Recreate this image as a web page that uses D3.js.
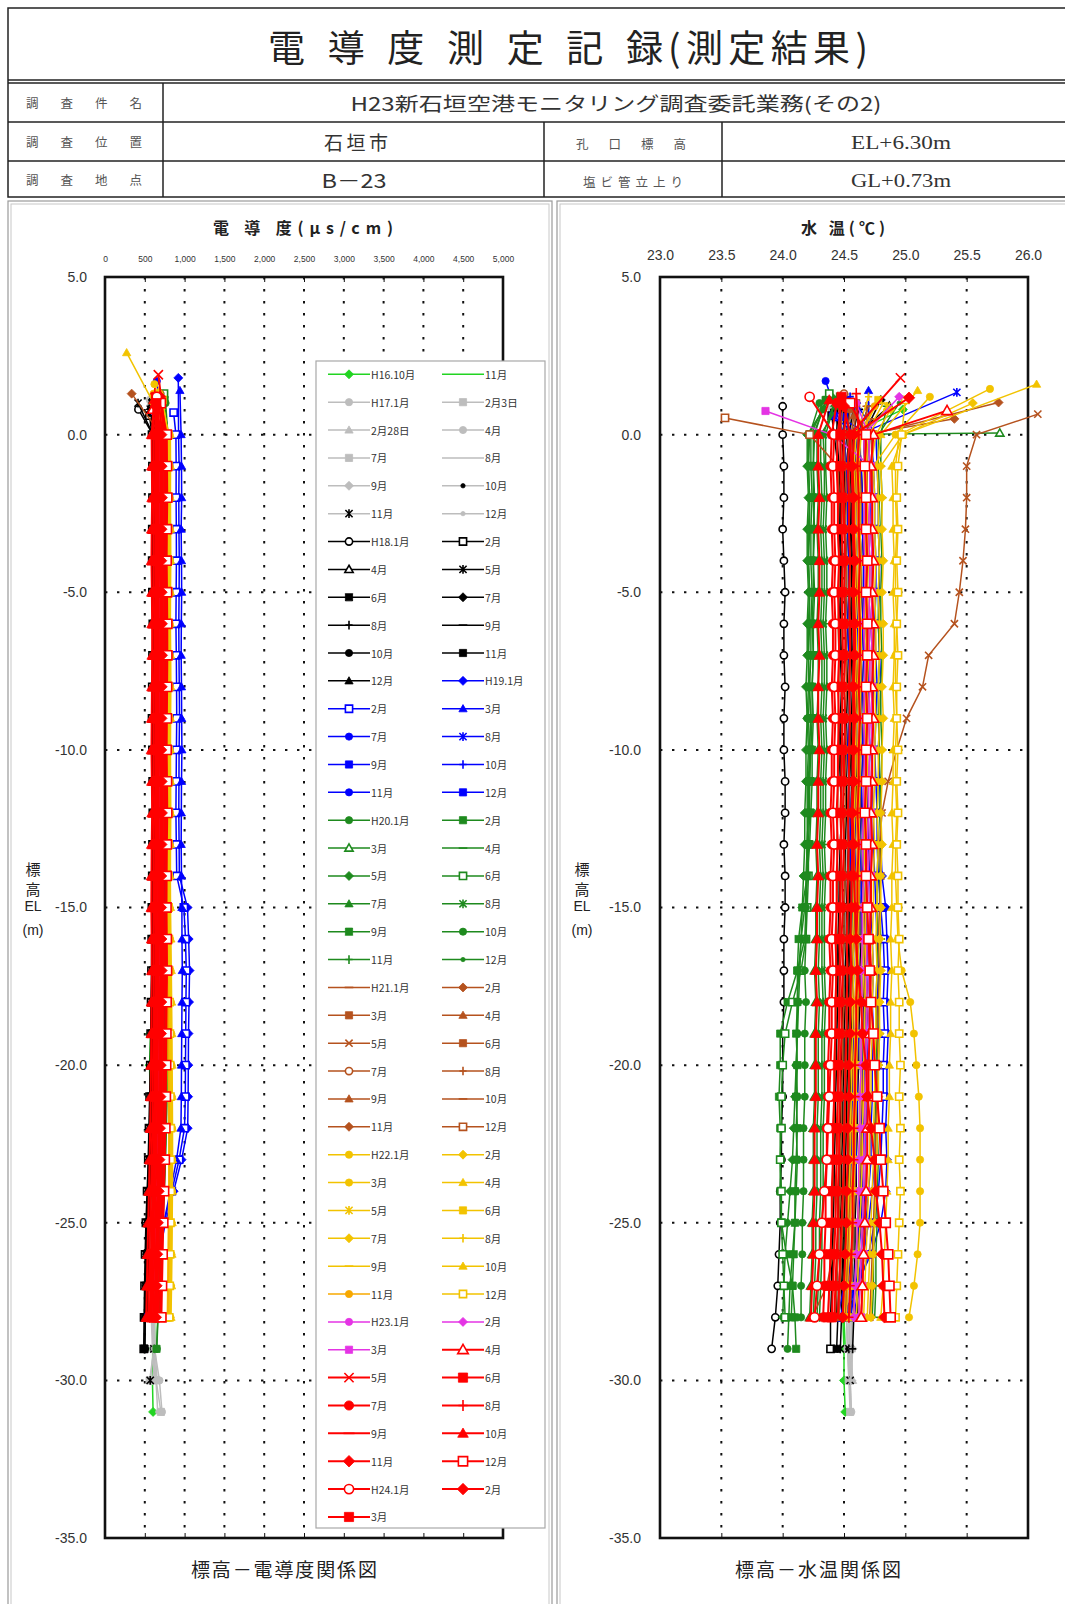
<!DOCTYPE html>
<html>
<head>
<meta charset="utf-8">
<script src="https://cdn.jsdelivr.net/npm/d3@7"></script>
<style>
  body { margin: 0; background: #fff; }
  svg { display: block; }
</style>
</head>
<body>
<svg id="chart" width="1065" height="1604"></svg>
<script>
// ---- data ----
const seriesNames = ["H16.10月","11月","H17.1月","2月3日","2月28日","4月","7月","8月","9月","10月","11月","12月",
  "H18.1月","2月","4月","5月","6月","7月","8月","9月","10月","11月","12月",
  "H19.1月","2月","3月","7月","8月","9月","10月","11月","12月",
  "H20.1月","2月","3月","4月","5月","6月","7月","8月","9月","10月","11月","12月",
  "H21.1月","2月","3月","4月","5月","6月","7月","8月","9月","10月","11月","12月",
  "H22.1月","2月","3月","4月","5月","6月","7月","8月","9月","10月","11月","12月",
  "H23.1月","2月","3月","4月","5月","6月","7月","8月","9月","10月","11月","12月",
  "H24.1月","2月","3月"];

const condTicks = [0,500,1000,1500,2000,2500,3000,3500,4000,4500,5000];
const tempTicks = [23.0,23.5,24.0,24.5,25.0,25.5,26.0];
const depthTicks = [5,0,-5,-10,-15,-20,-25,-30,-35];

// depth (EL m) of the first reading of each series; following readings are at 0, -1, -2 ... m
const condTop = [1.0,0.9,1.1,0.8,1.0,1.2,0.9,1.0,0.8,1.1,1.0,0.9,
  0.8,0.6,0.9,1.0,0.7,1.1,0.9,0.8,1.0,0.7,0.9,
  1.8,0.7,1.4,1.7,1.3,0.6,1.2,1.1,0.8,
  1.0,1.1,0.1,0.9,1.2,1.3,0.9,1.0,1.1,0.8,1.2,1.0,
  0.9,1.3,1.0,0.8,0.6,1.0,1.3,0.9,0.6,0.5,1.0,0.5,
  1.3,1.0,1.6,2.6,0.9,1.1,0.8,1.2,1.0,1.4,0.9,1.1,
  1.0,1.2,0.75,0.8,1.9,1.2,1.0,1.3,0.9,1.1,1.2,1.0,1.2,0.9,1.0];
const tempTop = [0.8,0.9,1.1,0.8,1.0,1.2,0.9,1.0,0.8,1.1,1.0,0.9,
  0.9,0.6,0.9,1.0,0.7,1.1,0.9,0.8,1.0,0.7,0.9,
  1.0,0.56,1.4,1.7,1.34,0.56,1.2,1.1,0.6,
  1.0,1.1,0.05,0.9,1.2,1.3,0.9,1.0,1.1,0.8,1.2,1.0,
  0.9,0.5,1.0,0.8,0.65,1.0,1.3,0.9,0.6,0.5,1.02,0.53,
  1.45,1.0,1.2,1.6,0.9,1.1,0.8,1.2,1.0,1.4,0.9,1.1,
  1.0,1.2,0.75,0.76,1.8,1.2,1.0,1.3,0.9,1.1,1.17,1.0,1.2,0.9,1.0];

// conductivity (µS/cm)
const condH16H17 = [
  [640,655,650,646,652,657,651,644,649,653,650,656,651,647,644,650,654,648,633,604,572,560,566,578,592,610,622,628,616,608,600,596,604],
  [602,641,646,652,647,643,651,654,657,649,646,651,654,648,643,639,643,646,638,628,612,590,575,566,571,588,601,612,617,622,626],
  [562,603,611,616,611,608,614,621,617,613,611,609,616,619,622,614,610,607,603,598,589,579,568,556,548,552,561,571,583,594,606,624],
  [578,621,626,631,627,624,631,633,629,626,623,631,636,631,628,626,623,618,612,606,597,586,572,558,547,544,553,566,577,592,612,642,702],
  [571,614,619,623,619,616,621,626,621,618,617,622,624,626,619,616,613,608,603,595,587,577,562,549,540,546,557,566,582,603,628,655],
  [598,642,643,647,641,636,641,646,649,644,641,637,641,646,643,639,636,633,627,618,607,598,583,568,559,553,561,572,587,603,622,684,716],
  [591,628,633,636,629,627,631,636,639,633,629,626,631,633,636,629,626,623,618,610,603,593,578,563,553,549,557,569,582,597,614,561],
  [612,651,653,657,651,647,651,656,659,654,649,647,651,653,656,649,646,644,638,631,623,614,598,583,574,568,576,587,596,606,621],
  [618,662,661,666,659,657,661,664,663,659,657,661,663,666,659,657,654,651,644,637,628,618,603,589,578,574,581,591,602,616,632,598],
  [579,619,623,626,621,617,621,626,627,624,619,617,621,623,626,619,616,614,608,601,593,583,569,558,549,543,551,561,571,582,596],
  [601,641,646,649,644,641,646,649,651,647,644,641,646,649,651,644,641,639,633,626,618,608,593,578,568,563,571,582,591,601,614,568],
  [589,631,636,639,634,631,636,637,641,637,634,631,636,639,641,634,631,629,623,616,608,598,583,568,558,553,561,571,581,591,606,641,662]
];
const condH18 = [
  [420,601,606,611,607,604,611,613,609,607,604,611,613,616,609,607,604,601,597,594,589,584,579,569,558,544,531,519,511,504,499],
  [558,591,596,597,594,593,596,601,597,594,591,596,599,601,597,594,589,587,584,579,574,569,561,553,544,529,514,504,497,491,487],
  [582,611,613,616,611,609,613,616,617,614,611,609,613,616,611,609,607,604,599,594,589,584,577,569,559,547,534,526,517,511],
  [415,604,609,611,607,604,609,611,613,609,607,604,609,611,607,604,601,599,596,591,587,581,574,564,554,539,527,517,509,504,498],
  [589,621,623,626,621,619,623,626,627,624,621,619,623,626,621,619,617,614,609,604,599,594,587,579,569,557,544,534,527,521],
  [601,629,633,636,631,629,633,636,637,634,631,629,633,636,631,629,627,624,619,614,609,604,597,589,579,567,554,544,537,529],
  [569,601,604,606,602,599,604,606,607,604,602,599,604,606,602,599,597,594,589,584,579,574,567,559,549,537,524,514,507,501,496],
  [611,639,643,646,641,639,643,646,647,644,641,639,643,646,641,639,637,634,629,624,619,614,607,599,589,577,564,554,547,539],
  [594,626,627,631,627,624,627,631,631,629,627,624,627,631,627,624,621,619,614,609,604,599,591,584,574,561,549,539,531,524],
  [586,614,619,621,617,614,619,621,621,619,617,614,619,621,617,614,611,609,604,599,594,589,581,574,564,551,537,524,514,504,494],
  [579,613,614,619,614,611,614,619,619,617,614,611,614,619,614,611,609,605,601,597,591,585,577,569,559,547,534,524,517,509]
];
const condH19 = [
  [921,924,931,927,929,933,931,927,929,933,936,931,929,927,931,934,1036,1051,1062,1056,1049,1047,1044,1039,962,862,759,681,601,561],
  [862,891,894,893,896,897,894,891,896,899,901,897,894,891,896,901,991,1011,1021,1017,1014,1011,1009,999,931,839,741,659,589,551],
  [941,956,961,963,957,961,963,959,957,961,963,966,961,959,957,961,966,967,971,967,964,961,959,954,899,821,739,669,609,571],
  [651,721,724,723,719,726,727,724,723,719,724,729,731,727,724,723,719,726,727,731,727,724,721,719,714,704,691,669,641,601],
  [701,739,743,746,741,739,746,747,744,743,741,744,749,751,747,746,741,739,744,749,746,741,739,736,724,711,689,664,631,589],
  [691,736,737,741,737,734,739,741,741,737,736,737,741,743,739,737,736,737,741,741,739,737,734,731,719,706,684,661,624,584],
  [711,759,763,764,763,759,766,767,764,763,759,766,767,771,767,766,761,759,764,769,766,761,759,756,744,729,704,676,639,601],
  [706,751,751,756,751,749,756,757,754,753,751,754,757,761,757,756,751,749,756,757,754,753,749,744,736,717,694,669,631,594],
  [714,756,757,761,757,754,761,761,759,757,756,759,763,764,763,759,757,754,759,763,759,757,756,749,741,721,701,671,637,597]
];
const condH20 = [
  [761,791,794,793,796,797,794,791,796,799,794,791,796,797,794,791,789,793,796,791,787,784,779,771,759,746,724,706,684,666,651],
  [749,781,784,783,786,787,784,781,786,789,784,781,786,787,784,781,779,783,786,781,777,774,769,761,749,736,717,701,679,663,647],
  [701,771,771,776,771,769,771,776,777,774,771,769,771,776,771,769,767,771,771,767,764,761,757,749,739,726,709,694,679,664],
  [719,761,761,766,761,759,761,766,767,764,761,759,761,766,761,759,757,761,761,757,754,751,747,739,729,717,701,687,673,659],
  [731,776,777,781,777,774,777,781,781,779,777,774,777,781,777,774,771,776,777,771,769,767,761,753,743,731,714,699,687,671],
  [741,784,789,791,787,784,789,791,791,789,787,784,789,791,787,784,781,784,789,781,779,777,769,761,751,739,721,707,689,677],
  [699,766,767,771,767,764,767,771,771,769,767,764,767,771,767,764,761,766,767,761,759,757,749,741,731,719,703,691,677,661],
  [711,771,776,777,776,771,776,777,781,777,776,771,776,777,776,771,769,773,776,769,767,763,757,751,739,727,711,699,683,671],
  [724,781,781,786,781,779,781,786,787,784,781,779,781,786,781,779,777,781,781,777,774,771,764,757,747,731,719,703,691,677],
  [716,767,771,771,771,767,771,771,776,771,771,767,771,771,771,767,766,767,771,766,761,759,751,743,733,721,707,691,679,667],
  [736,789,793,794,793,789,793,794,799,794,793,789,793,794,793,789,787,791,793,787,786,781,774,767,757,741,729,713,701,687],
  [727,783,784,789,784,783,784,789,791,787,784,783,784,789,784,783,779,783,784,781,777,773,769,759,751,737,721,709,693,681]
];
const condH21 = [
  [689,716,717,721,716,714,719,723,719,717,714,719,721,719,717,714,716,721,717,716,711,709,703,697,691,679,671,659,651,639],
  [335,701,704,709,703,702,707,711,706,704,701,706,709,707,703,701,704,706,704,701,699,693,689,681,671,663,651,643,631,623],
  [706,731,733,737,731,729,734,737,733,731,729,731,737,733,731,727,731,733,731,729,724,721,713,707,697,687,674,664,654,641],
  [681,707,711,714,709,706,711,713,711,709,707,709,714,711,707,706,709,711,709,707,701,699,691,683,677,666,657,646,637,627],
  [659,694,699,701,697,693,699,701,698,697,693,696,701,697,694,693,696,698,697,693,688,686,679,671,664,653,644,633,624,613],
  [701,726,727,731,726,724,727,731,728,726,724,726,731,727,726,721,726,728,727,723,718,716,709,701,694,683,673,664,653,644],
  [691,719,721,724,719,717,721,724,722,719,717,719,724,722,719,716,719,722,721,717,713,709,703,696,687,677,667,657,647,637],
  [676,703,706,708,704,701,706,708,705,704,701,704,708,705,703,701,703,706,704,701,696,693,687,679,671,661,651,641,631,621],
  [686,712,716,717,713,711,716,718,714,713,711,713,717,714,712,711,713,716,713,711,706,703,697,689,681,671,661,651,641,631],
  [697,722,724,727,723,721,724,727,724,722,721,724,727,724,722,719,723,724,723,721,716,713,707,699,691,681,671,661,651,641],
  [671,699,701,704,699,697,701,704,701,699,697,701,704,701,699,696,699,701,699,697,692,689,683,675,667,657,647,637,627,617],
  [708,734,737,741,736,733,737,741,738,736,733,736,741,737,734,731,734,737,736,733,728,724,717,709,701,691,681,671,661,651]
];
const condH22 = [
  [611,801,806,804,807,809,806,803,807,811,808,804,807,809,806,803,806,811,816,821,826,829,833,836,837,835,832,829,824,819],
  [606,796,799,798,801,803,799,797,801,804,801,798,801,803,799,797,799,804,809,814,818,821,826,829,831,829,826,823,817,811],
  [621,811,813,812,814,817,813,811,815,818,815,812,814,817,813,811,813,818,823,828,833,836,839,842,843,841,838,834,829,823],
  [272,821,823,822,824,826,823,821,825,827,824,822,824,826,823,821,823,828,833,837,841,843,846,848,849,847,844,841,836,829],
  [701,781,783,782,785,787,783,781,785,788,785,782,784,787,783,781,783,787,791,796,801,803,807,811,812,811,808,804,799,794],
  [711,786,789,788,791,793,789,787,791,794,791,788,791,793,789,787,789,793,797,801,806,809,813,816,817,816,813,809,804,798],
  [696,776,778,777,779,782,778,776,779,783,779,777,779,782,778,776,778,782,786,791,795,798,802,805,806,804,801,798,793,788],
  [716,791,793,792,795,797,793,791,795,798,795,792,795,797,793,791,793,797,801,806,811,813,817,821,822,821,817,813,808,802],
  [706,784,786,785,788,790,786,784,788,791,788,785,788,790,786,784,786,790,794,798,803,806,810,813,814,813,810,806,801,796],
  [681,771,773,772,775,777,773,771,775,778,775,772,775,777,773,771,773,777,781,786,791,793,797,801,802,801,797,793,788,783],
  [691,779,781,780,783,785,781,779,783,786,783,780,783,785,781,779,781,785,789,793,798,801,805,808,809,808,805,801,796,791],
  [721,796,798,797,800,802,798,796,800,803,800,797,800,802,798,796,798,802,806,811,815,818,822,826,827,826,822,818,813,807]
];
const condH23H24 = [
  [641,671,673,676,672,669,673,676,677,674,672,669,673,676,672,669,667,671,673,669,666,663,659,651,643,633,621,611,601,591],
  [651,684,686,689,684,682,686,689,689,687,684,682,686,689,684,682,679,684,686,682,679,676,671,663,656,646,634,623,613,603],
  [631,662,664,667,663,661,664,667,668,666,663,661,664,667,663,661,659,663,664,661,657,654,649,643,636,626,614,604,594,584],
  [601,611,614,617,612,609,614,617,618,615,612,609,614,617,612,609,607,611,614,609,606,603,599,593,586,577,567,559,551,543],
  [670,761,764,767,762,759,764,767,768,765,762,759,764,767,762,759,757,761,764,759,756,753,749,743,736,727,717,709,701,693],
  [641,655,658,661,656,653,658,661,662,659,656,653,658,661,656,653,651,655,658,653,650,647,643,637,630,621,611,603,595,587],
  [661,691,694,697,692,689,694,697,698,695,692,689,694,697,692,689,687,691,694,689,686,683,679,673,666,657,647,639,631,623],
  [626,631,634,637,632,629,634,637,638,635,632,629,634,637,632,629,627,631,634,629,626,623,619,613,606,597,587,579,571,563],
  [681,721,724,727,722,719,724,727,728,725,722,719,724,727,722,719,717,721,724,719,716,713,709,703,696,687,677,669,661,653],
  [616,586,589,592,587,584,589,592,593,590,587,584,589,592,587,584,582,586,589,584,581,578,574,568,561,552,542,534,526,518],
  [691,741,744,747,742,739,744,747,748,745,742,739,744,747,742,739,737,741,744,739,736,733,729,723,716,707,697,689,681,673],
  [701,776,779,782,777,774,779,782,783,780,777,774,779,782,777,774,772,776,779,774,771,768,764,758,751,742,732,724,716,708],
  [651,671,674,677,672,669,674,677,678,675,672,669,674,677,672,669,667,671,674,669,666,663,659,653,646,637,627,619,611,603],
  [636,706,709,712,707,704,709,712,713,710,707,704,709,712,707,704,702,706,709,704,701,698,694,688,681,672,662,654,646,638],
  [646,641,644,647,642,639,644,647,648,645,642,639,644,647,642,639,637,641,644,639,636,633,629,623,616,607,597,589,581,573]
];

// water temperature (°C)
const tempH16H17 = [
  [24.98,24.55,24.52,24.53,24.55,24.56,24.55,24.54,24.55,24.57,24.56,24.55,24.54,24.55,24.56,24.57,24.56,24.55,24.54,24.53,24.52,24.52,24.51,24.50,24.50,24.49,24.50,24.51,24.50,24.49,24.50,24.50,24.51],
  [24.75,24.58,24.56,24.57,24.58,24.58,24.57,24.56,24.57,24.58,24.59,24.58,24.57,24.56,24.57,24.58,24.57,24.56,24.55,24.55,24.54,24.53,24.53,24.52,24.52,24.51,24.51,24.52,24.51,24.50,24.51],
  [24.45,24.48,24.50,24.51,24.52,24.52,24.53,24.52,24.53,24.54,24.53,24.52,24.53,24.54,24.53,24.52,24.52,24.51,24.52,24.51,24.50,24.51,24.50,24.50,24.49,24.50,24.51,24.52,24.53,24.54,24.55,24.55],
  [24.40,24.47,24.49,24.50,24.51,24.50,24.51,24.52,24.51,24.50,24.51,24.52,24.52,24.51,24.50,24.51,24.52,24.51,24.50,24.50,24.49,24.50,24.49,24.48,24.49,24.50,24.51,24.52,24.53,24.52,24.53,24.54,24.55],
  [24.50,24.52,24.54,24.55,24.55,24.56,24.55,24.56,24.57,24.56,24.55,24.56,24.57,24.56,24.55,24.55,24.54,24.55,24.54,24.53,24.53,24.52,24.52,24.51,24.52,24.52,24.53,24.54,24.55,24.56,24.56,24.57],
  [24.55,24.56,24.58,24.58,24.59,24.60,24.59,24.60,24.61,24.60,24.59,24.60,24.61,24.60,24.59,24.59,24.58,24.58,24.57,24.57,24.56,24.55,24.55,24.54,24.54,24.53,24.54,24.55,24.56,24.55,24.54,24.55,24.56],
  [24.48,24.50,24.52,24.53,24.53,24.54,24.54,24.53,24.54,24.55,24.54,24.53,24.54,24.55,24.54,24.53,24.53,24.52,24.52,24.51,24.51,24.50,24.50,24.49,24.49,24.50,24.51,24.52,24.53,24.52,24.53,24.54],
  [24.58,24.60,24.62,24.62,24.63,24.63,24.62,24.63,24.64,24.63,24.62,24.63,24.64,24.63,24.62,24.62,24.61,24.61,24.60,24.60,24.59,24.58,24.58,24.57,24.57,24.56,24.56,24.57,24.58,24.57,24.56],
  [24.62,24.63,24.64,24.65,24.65,24.66,24.65,24.66,24.67,24.66,24.65,24.66,24.66,24.65,24.64,24.64,24.63,24.63,24.62,24.61,24.61,24.60,24.59,24.59,24.58,24.58,24.57,24.58,24.58,24.57,24.57,24.56],
  [24.52,24.53,24.55,24.56,24.56,24.57,24.57,24.56,24.57,24.58,24.57,24.56,24.57,24.57,24.56,24.56,24.55,24.55,24.54,24.54,24.53,24.53,24.52,24.52,24.51,24.51,24.52,24.53,24.53,24.52,24.53],
  [24.47,24.49,24.51,24.52,24.52,24.53,24.53,24.52,24.53,24.54,24.53,24.52,24.53,24.53,24.52,24.52,24.51,24.51,24.50,24.50,24.49,24.49,24.48,24.48,24.49,24.50,24.51,24.52,24.53,24.54,24.54,24.55],
  [24.56,24.57,24.59,24.60,24.60,24.61,24.61,24.60,24.61,24.62,24.61,24.60,24.61,24.61,24.60,24.60,24.59,24.59,24.58,24.58,24.57,24.57,24.56,24.56,24.55,24.55,24.56,24.57,24.57,24.56,24.56,24.55,24.56]
];
const tempH18 = [
  [24.00,24.00,24.01,24.01,24.00,24.01,24.02,24.01,24.01,24.02,24.01,24.01,24.02,24.02,24.01,24.02,24.02,24.01,24.01,24.01,24.00,24.00,24.00,23.99,23.99,23.98,23.98,23.97,23.96,23.94,23.91],
  [24.40,24.42,24.45,24.46,24.46,24.47,24.47,24.46,24.47,24.48,24.47,24.46,24.47,24.48,24.47,24.46,24.46,24.45,24.45,24.44,24.44,24.43,24.43,24.42,24.42,24.41,24.41,24.40,24.40,24.39,24.39],
  [24.87,24.60,24.62,24.63,24.63,24.64,24.64,24.63,24.64,24.65,24.64,24.63,24.64,24.64,24.63,24.63,24.62,24.62,24.61,24.61,24.60,24.60,24.59,24.59,24.58,24.58,24.57,24.57,24.56,24.56],
  [24.55,24.52,24.54,24.55,24.55,24.56,24.56,24.55,24.56,24.57,24.56,24.55,24.56,24.56,24.55,24.55,24.54,24.54,24.53,24.53,24.52,24.52,24.51,24.51,24.50,24.50,24.49,24.49,24.48,24.48,24.47],
  [24.42,24.48,24.50,24.51,24.51,24.52,24.52,24.51,24.52,24.53,24.52,24.51,24.52,24.52,24.51,24.51,24.50,24.50,24.49,24.49,24.48,24.48,24.47,24.47,24.46,24.46,24.45,24.45,24.44,24.44],
  [24.80,24.66,24.67,24.68,24.68,24.69,24.69,24.68,24.69,24.70,24.69,24.68,24.69,24.69,24.68,24.68,24.67,24.67,24.66,24.66,24.65,24.65,24.64,24.64,24.63,24.63,24.62,24.62,24.61,24.61],
  [24.70,24.62,24.64,24.65,24.65,24.66,24.66,24.65,24.66,24.67,24.66,24.65,24.66,24.66,24.65,24.65,24.64,24.64,24.63,24.63,24.62,24.62,24.61,24.61,24.60,24.60,24.59,24.59,24.58,24.58,24.57],
  [24.62,24.57,24.58,24.59,24.59,24.60,24.60,24.59,24.60,24.61,24.60,24.59,24.60,24.60,24.59,24.59,24.58,24.58,24.57,24.57,24.56,24.56,24.55,24.55,24.54,24.54,24.53,24.53,24.52,24.52],
  [24.45,24.44,24.46,24.47,24.47,24.48,24.48,24.47,24.48,24.49,24.48,24.47,24.48,24.48,24.47,24.47,24.46,24.46,24.45,24.45,24.44,24.44,24.43,24.43,24.42,24.42,24.41,24.41,24.40,24.40],
  [24.50,24.50,24.52,24.53,24.53,24.54,24.54,24.53,24.54,24.55,24.54,24.53,24.54,24.54,24.53,24.53,24.52,24.52,24.51,24.51,24.50,24.50,24.49,24.49,24.48,24.48,24.47,24.47,24.46,24.45,24.44],
  [24.58,24.54,24.55,24.56,24.56,24.57,24.57,24.56,24.57,24.58,24.57,24.56,24.57,24.57,24.56,24.56,24.55,24.55,24.54,24.54,24.53,24.53,24.52,24.52,24.51,24.51,24.50,24.50,24.49,24.49]
];
const tempH19 = [
  [24.60,24.76,24.77,24.78,24.78,24.79,24.79,24.78,24.79,24.80,24.79,24.78,24.79,24.80,24.80,24.81,24.84,24.85,24.86,24.85,24.86,24.85,24.85,24.84,24.85,24.84,24.80,24.72,24.60,24.50],
  [24.45,24.72,24.74,24.75,24.75,24.76,24.76,24.75,24.76,24.77,24.76,24.75,24.76,24.77,24.77,24.78,24.80,24.82,24.83,24.82,24.83,24.82,24.82,24.81,24.80,24.78,24.75,24.70,24.62,24.48],
  [24.70,24.70,24.71,24.72,24.72,24.73,24.73,24.72,24.73,24.74,24.73,24.72,24.73,24.74,24.74,24.75,24.76,24.77,24.78,24.77,24.78,24.77,24.77,24.76,24.75,24.73,24.70,24.66,24.60,24.55],
  [24.35,24.50,24.52,24.53,24.53,24.54,24.54,24.53,24.54,24.55,24.54,24.53,24.54,24.55,24.55,24.56,24.56,24.57,24.58,24.57,24.58,24.57,24.57,24.56,24.56,24.55,24.54,24.52,24.50,24.45],
  [25.42,24.62,24.64,24.65,24.65,24.66,24.66,24.65,24.66,24.67,24.66,24.65,24.66,24.67,24.67,24.68,24.68,24.69,24.70,24.69,24.70,24.69,24.69,24.68,24.68,24.67,24.66,24.64,24.62,24.58],
  [24.49,24.58,24.60,24.61,24.61,24.62,24.62,24.61,24.62,24.63,24.62,24.61,24.62,24.63,24.63,24.64,24.64,24.65,24.66,24.65,24.66,24.65,24.65,24.64,24.64,24.63,24.62,24.60,24.58,24.52],
  [24.55,24.66,24.67,24.68,24.68,24.69,24.69,24.68,24.69,24.70,24.69,24.68,24.69,24.70,24.70,24.71,24.72,24.73,24.74,24.73,24.74,24.73,24.73,24.72,24.72,24.70,24.68,24.66,24.63,24.58],
  [24.52,24.54,24.56,24.57,24.57,24.58,24.58,24.57,24.58,24.59,24.58,24.57,24.58,24.59,24.59,24.60,24.60,24.61,24.62,24.61,24.62,24.61,24.61,24.60,24.60,24.59,24.58,24.56,24.53,24.47],
  [24.41,24.60,24.62,24.63,24.63,24.64,24.64,24.63,24.64,24.65,24.64,24.63,24.64,24.65,24.65,24.66,24.66,24.67,24.68,24.67,24.68,24.67,24.67,24.66,24.66,24.65,24.64,24.62,24.60,24.54]
];
const tempH20 = [
  [24.30,24.22,24.21,24.22,24.22,24.21,24.22,24.22,24.21,24.22,24.21,24.22,24.21,24.21,24.20,24.20,24.18,24.15,24.13,24.12,24.12,24.11,24.12,24.11,24.12,24.11,24.10,24.08,24.06,24.05,24.04],
  [24.35,24.26,24.25,24.25,24.26,24.25,24.25,24.24,24.25,24.24,24.24,24.23,24.22,24.21,24.20,24.20,24.19,24.18,24.12,24.04,23.98,23.98,23.97,23.98,23.98,23.98,23.99,24.03,24.08,24.10,24.11],
  [25.77,24.28,24.28,24.29,24.28,24.29,24.29,24.28,24.29,24.29,24.28,24.29,24.28,24.28,24.27,24.28,24.27,24.27,24.26,24.27,24.26,24.26,24.26,24.25,24.25,24.25,24.24,24.24,24.23,24.22],
  [24.85,24.80,24.80,24.81,24.80,24.81,24.80,24.80,24.81,24.80,24.80,24.81,24.80,24.79,24.80,24.79,24.79,24.80,24.79,24.78,24.79,24.78,24.78,24.77,24.78,24.77,24.77,24.76,24.76,24.75],
  [24.40,24.20,24.20,24.21,24.20,24.20,24.21,24.20,24.20,24.19,24.20,24.19,24.19,24.18,24.18,24.17,24.16,24.15,24.14,24.13,24.12,24.11,24.10,24.09,24.08,24.06,24.04,24.02,24.01,24.00],
  [24.38,24.23,24.23,24.24,24.23,24.23,24.24,24.23,24.23,24.22,24.23,24.22,24.22,24.22,24.21,24.21,24.20,24.19,24.15,24.08,24.02,24.00,23.99,23.99,23.98,23.99,23.99,24.00,24.01,24.02],
  [24.45,24.31,24.31,24.32,24.31,24.32,24.32,24.31,24.32,24.32,24.31,24.32,24.31,24.31,24.30,24.31,24.30,24.30,24.29,24.30,24.29,24.29,24.29,24.28,24.28,24.28,24.27,24.27,24.26,24.25],
  [24.42,24.33,24.34,24.34,24.33,24.34,24.34,24.33,24.34,24.34,24.33,24.34,24.33,24.33,24.32,24.33,24.32,24.32,24.32,24.33,24.32,24.32,24.32,24.31,24.31,24.31,24.30,24.30,24.29,24.28],
  [24.36,24.25,24.25,24.26,24.25,24.25,24.26,24.25,24.25,24.24,24.25,24.24,24.24,24.23,24.22,24.20,24.16,24.13,24.12,24.12,24.11,24.12,24.11,24.12,24.11,24.10,24.10,24.09,24.08,24.07],
  [24.33,24.21,24.21,24.22,24.21,24.21,24.22,24.21,24.21,24.21,24.20,24.21,24.20,24.20,24.20,24.19,24.19,24.19,24.18,24.19,24.18,24.18,24.18,24.17,24.17,24.17,24.16,24.16,24.15,24.15],
  [24.44,24.35,24.35,24.36,24.35,24.36,24.36,24.35,24.36,24.36,24.35,24.36,24.35,24.35,24.34,24.35,24.34,24.34,24.34,24.35,24.34,24.34,24.34,24.33,24.33,24.33,24.32,24.32,24.31,24.30],
  [24.95,24.78,24.78,24.79,24.78,24.79,24.78,24.78,24.79,24.78,24.78,24.79,24.78,24.77,24.78,24.77,24.77,24.78,24.77,24.76,24.77,24.76,24.76,24.75,24.76,24.75,24.75,24.74,24.74,24.73]
];
const tempH21 = [
  [24.70,24.62,24.63,24.64,24.63,24.64,24.64,24.63,24.64,24.64,24.63,24.64,24.63,24.63,24.62,24.63,24.62,24.62,24.61,24.62,24.61,24.61,24.60,24.60,24.59,24.59,24.58,24.57,24.56,24.55],
  [25.40,24.66,24.67,24.67,24.66,24.67,24.67,24.66,24.67,24.67,24.66,24.67,24.66,24.66,24.65,24.66,24.65,24.65,24.64,24.65,24.64,24.64,24.63,24.63,24.62,24.62,24.61,24.60,24.59,24.58],
  [24.60,24.58,24.59,24.60,24.59,24.60,24.60,24.59,24.60,24.60,24.59,24.60,24.59,24.59,24.58,24.59,24.58,24.58,24.57,24.58,24.57,24.57,24.56,24.56,24.55,24.55,24.54,24.53,24.52,24.51],
  [24.55,24.53,24.54,24.55,24.54,24.55,24.55,24.54,24.55,24.55,24.54,24.55,24.54,24.54,24.53,24.54,24.53,24.53,24.52,24.53,24.52,24.52,24.51,24.51,24.50,24.50,24.49,24.48,24.47,24.46],
  [26.08,25.58,25.50,25.50,25.49,25.47,25.44,25.40,25.19,25.14,25.01,24.93,24.86,24.81,24.79,24.80,24.79,24.78,24.79,24.78,24.77,24.78,24.77,24.76,24.76,24.75,24.74,24.73,24.72,24.71],
  [24.52,24.50,24.51,24.52,24.51,24.52,24.52,24.51,24.52,24.52,24.51,24.52,24.51,24.51,24.50,24.51,24.50,24.50,24.49,24.50,24.49,24.49,24.48,24.48,24.47,24.47,24.46,24.45,24.44,24.43],
  [24.50,24.47,24.48,24.49,24.48,24.49,24.49,24.48,24.49,24.49,24.48,24.49,24.48,24.48,24.47,24.48,24.47,24.47,24.46,24.47,24.46,24.46,24.45,24.45,24.44,24.44,24.43,24.41,24.36,24.24],
  [24.68,24.70,24.71,24.71,24.70,24.71,24.71,24.70,24.71,24.71,24.70,24.71,24.70,24.70,24.69,24.70,24.69,24.69,24.68,24.69,24.68,24.68,24.67,24.67,24.66,24.66,24.65,24.64,24.63,24.62],
  [24.58,24.56,24.57,24.58,24.57,24.58,24.58,24.57,24.58,24.58,24.57,24.58,24.57,24.57,24.56,24.57,24.56,24.56,24.55,24.56,24.55,24.55,24.54,24.54,24.53,24.53,24.52,24.51,24.50,24.49],
  [24.72,24.68,24.69,24.69,24.68,24.69,24.69,24.68,24.69,24.69,24.68,24.69,24.68,24.68,24.67,24.68,24.67,24.67,24.66,24.67,24.66,24.66,24.65,24.65,24.64,24.64,24.63,24.62,24.61,24.60],
  [25.76,24.72,24.73,24.73,24.72,24.73,24.73,24.72,24.73,24.73,24.72,24.73,24.72,24.72,24.71,24.72,24.71,24.71,24.70,24.71,24.70,24.70,24.69,24.69,24.68,24.68,24.67,24.66,24.65,24.64],
  [23.53,24.22,24.45,24.46,24.45,24.46,24.46,24.45,24.46,24.46,24.45,24.46,24.45,24.45,24.44,24.45,24.44,24.44,24.43,24.44,24.43,24.43,24.42,24.42,24.41,24.41,24.40,24.39,24.38,24.37]
];
const tempH22 = [
  [25.69,24.95,24.92,24.92,24.93,24.92,24.92,24.93,24.92,24.92,24.93,24.92,24.92,24.93,24.92,24.92,24.93,24.94,24.97,25.04,25.07,25.09,25.11,25.12,25.12,25.12,25.12,25.10,25.07,25.03],
  [25.55,24.98,24.80,24.81,24.81,24.82,24.81,24.82,24.82,24.81,24.82,24.81,24.81,24.80,24.81,24.80,24.80,24.79,24.80,24.79,24.79,24.78,24.78,24.77,24.77,24.76,24.75,24.74,24.73,24.72],
  [25.20,24.92,24.74,24.75,24.75,24.76,24.75,24.76,24.76,24.75,24.76,24.75,24.75,24.74,24.75,24.74,24.74,24.73,24.74,24.73,24.73,24.72,24.72,24.71,24.71,24.70,24.69,24.68,24.67,24.66],
  [26.07,24.98,24.89,24.90,24.90,24.91,24.90,24.91,24.91,24.90,24.91,24.90,24.90,24.89,24.90,24.89,24.89,24.88,24.89,24.88,24.88,24.87,24.87,24.86,24.86,24.85,24.84,24.83,24.82,24.80],
  [24.85,24.70,24.68,24.69,24.69,24.70,24.69,24.70,24.70,24.69,24.70,24.69,24.69,24.68,24.69,24.68,24.68,24.67,24.68,24.67,24.67,24.66,24.66,24.65,24.65,24.64,24.63,24.62,24.61,24.60],
  [24.78,24.64,24.62,24.63,24.63,24.64,24.63,24.64,24.64,24.63,24.64,24.63,24.63,24.62,24.63,24.62,24.62,24.61,24.62,24.61,24.61,24.60,24.60,24.59,24.59,24.58,24.57,24.56,24.55,24.54],
  [24.88,24.76,24.72,24.73,24.73,24.74,24.73,24.74,24.74,24.73,24.74,24.73,24.73,24.72,24.73,24.72,24.72,24.71,24.72,24.71,24.71,24.70,24.70,24.69,24.69,24.68,24.67,24.66,24.65,24.64],
  [24.70,24.60,24.58,24.59,24.59,24.60,24.59,24.60,24.60,24.59,24.60,24.59,24.59,24.58,24.59,24.58,24.58,24.57,24.58,24.57,24.57,24.56,24.56,24.55,24.55,24.54,24.53,24.52,24.51,24.50],
  [24.82,24.68,24.66,24.67,24.67,24.68,24.67,24.68,24.68,24.67,24.68,24.67,24.67,24.66,24.67,24.66,24.66,24.65,24.66,24.65,24.65,24.64,24.64,24.63,24.63,24.62,24.61,24.60,24.59,24.58],
  [25.10,24.80,24.77,24.78,24.78,24.79,24.78,24.79,24.79,24.78,24.79,24.78,24.78,24.77,24.78,24.77,24.77,24.76,24.77,24.76,24.76,24.75,24.75,24.74,24.74,24.73,24.72,24.71,24.70,24.69],
  [24.75,24.62,24.60,24.61,24.61,24.62,24.61,24.62,24.62,24.61,24.62,24.61,24.61,24.60,24.61,24.60,24.60,24.59,24.60,24.59,24.59,24.58,24.58,24.57,24.57,24.56,24.55,24.54,24.53,24.52],
  [25.00,24.97,24.94,24.93,24.94,24.93,24.94,24.93,24.94,24.93,24.93,24.94,24.93,24.94,24.93,24.94,24.94,24.95,24.94,24.95,24.95,24.96,24.95,24.96,24.95,24.96,24.95,24.94,24.93,24.92]
];
const tempH23H24 = [
  [24.60,24.70,24.71,24.71,24.70,24.71,24.71,24.70,24.71,24.71,24.70,24.71,24.70,24.70,24.69,24.70,24.69,24.69,24.68,24.69,24.68,24.68,24.67,24.67,24.66,24.66,24.65,24.64,24.63,24.62],
  [24.95,24.66,24.67,24.67,24.66,24.67,24.67,24.66,24.67,24.67,24.66,24.67,24.66,24.66,24.65,24.66,24.65,24.65,24.64,24.65,24.64,24.64,24.63,24.63,24.62,24.62,24.61,24.60,24.59,24.58],
  [23.86,24.40,24.72,24.73,24.72,24.73,24.73,24.72,24.73,24.73,24.72,24.73,24.72,24.72,24.71,24.72,24.71,24.71,24.70,24.71,24.70,24.70,24.69,24.69,24.68,24.68,24.67,24.66,24.65,24.64],
  [25.34,24.74,24.72,24.73,24.73,24.74,24.73,24.74,24.74,24.73,24.74,24.73,24.73,24.72,24.73,24.72,24.72,24.71,24.72,24.71,24.71,24.70,24.70,24.69,24.69,24.68,24.67,24.66,24.65,24.64],
  [24.96,24.55,24.53,24.54,24.54,24.55,24.54,24.55,24.55,24.54,24.55,24.54,24.54,24.53,24.54,24.53,24.53,24.52,24.53,24.52,24.52,24.51,24.51,24.50,24.50,24.49,24.48,24.47,24.46,24.45],
  [24.48,24.45,24.44,24.45,24.45,24.46,24.45,24.46,24.46,24.45,24.46,24.45,24.45,24.44,24.45,24.44,24.44,24.43,24.44,24.43,24.43,24.42,24.42,24.41,24.41,24.40,24.40,24.39,24.38,24.37],
  [24.44,24.40,24.39,24.40,24.40,24.41,24.40,24.41,24.41,24.40,24.41,24.40,24.40,24.39,24.40,24.39,24.39,24.38,24.39,24.38,24.38,24.37,24.37,24.36,24.36,24.35,24.35,24.34,24.34,24.33],
  [24.60,24.62,24.61,24.62,24.62,24.63,24.62,24.63,24.63,24.62,24.63,24.62,24.62,24.61,24.62,24.61,24.61,24.60,24.61,24.60,24.60,24.59,24.59,24.58,24.58,24.57,24.57,24.56,24.55,24.54],
  [24.52,24.50,24.49,24.50,24.50,24.51,24.50,24.51,24.51,24.50,24.51,24.50,24.50,24.49,24.50,24.49,24.49,24.48,24.49,24.48,24.48,24.47,24.47,24.46,24.46,24.45,24.45,24.44,24.43,24.42],
  [24.38,24.29,24.29,24.30,24.29,24.30,24.30,24.29,24.30,24.29,24.29,24.30,24.29,24.29,24.28,24.29,24.28,24.28,24.27,24.28,24.27,24.27,24.27,24.26,24.26,24.26,24.25,24.25,24.24,24.23],
  [25.03,24.58,24.57,24.58,24.58,24.59,24.58,24.59,24.59,24.58,24.59,24.58,24.58,24.57,24.58,24.58,24.59,24.60,24.61,24.64,24.65,24.68,24.69,24.72,24.75,24.76,24.79,24.81,24.82,24.83],
  [24.55,24.68,24.67,24.68,24.68,24.69,24.68,24.69,24.69,24.68,24.69,24.68,24.68,24.67,24.68,24.68,24.69,24.70,24.71,24.72,24.74,24.75,24.77,24.79,24.80,24.82,24.84,24.86,24.87,24.88],
  [24.22,24.42,24.41,24.42,24.42,24.43,24.42,24.43,24.43,24.42,24.43,24.42,24.42,24.41,24.42,24.41,24.41,24.40,24.41,24.40,24.40,24.39,24.38,24.37,24.36,24.34,24.32,24.30,24.28,24.26],
  [24.50,24.55,24.56,24.57,24.57,24.58,24.57,24.58,24.58,24.57,24.58,24.57,24.57,24.56,24.57,24.56,24.56,24.55,24.56,24.55,24.55,24.54,24.54,24.53,24.53,24.52,24.52,24.51,24.50,24.49],
  [24.46,24.47,24.47,24.48,24.48,24.49,24.48,24.49,24.49,24.48,24.49,24.48,24.48,24.47,24.48,24.47,24.47,24.46,24.47,24.46,24.46,24.45,24.45,24.44,24.44,24.43,24.43,24.42,24.41,24.40]
];

const condValues = [].concat(condH16H17, condH18, condH19, condH20, condH21, condH22, condH23H24);
const tempValues = [].concat(tempH16H17, tempH18, tempH19, tempH20, tempH21, tempH22, tempH23H24);

// ---- styles ----
const seriesMarker = ["diamond","none","circle","square","triangle","circle","square","none","diamond","dot","asterisk","dot",
  "ocircle","osquare","otriangle","asterisk","xsquare","diamond","plus","dash","circle","square","triangle",
  "diamond","osquare","triangle","circle","asterisk","square","plus","circle","square",
  "circle","square","otriangle","dash","diamond","osquare","triangle","asterisk","xsquare","circle","plus","dot",
  "dash","diamond","square","triangle","x","square","ocircle","plus","triangle","dash","diamond","osquare",
  "circle","diamond","circle","triangle","asterisk","square","diamond","plus","dash","triangle","circle","osquare",
  "circle","diamond","square","otriangle","x","square","circle","plus","dash","triangle","diamond","osquare",
  "ocircle","diamond","square"];

function seriesColor(i) {
  if (i < 2) return "#22d422";
  if (i < 12) return "#bdbdbd";
  if (i < 23) return "#000000";
  if (i < 32) return "#0000ff";
  if (i < 44) return "#1e8a1e";
  if (i < 56) return "#b5521e";
  if (i < 68) return i === 66 ? "#f7a800" : "#f2c300";
  if (i < 71) return "#e434e4";
  return "#ff0000";
}
function markerFill(i) { return (i === 9 || i === 10) ? "#000" : seriesColor(i); }
function markerSize(i) { return i >= 71 ? 4.6 : 3.6; }

function circ(r) { return `M${-r},0a${r},${r} 0 1,0 ${2*r},0a${r},${r} 0 1,0 ${-2*r},0Z`; }
function markerPath(type, r) {
  switch (type) {
    case "circle": case "ocircle": return circ(r);
    case "dot": return circ(r * 0.6);
    case "square": case "osquare": return `M${-r},${-r}h${2*r}v${2*r}h${-2*r}Z`;
    case "xsquare": return `M${-r},${-r}h${2*r}v${2*r}h${-2*r}ZM${-r},${-r}L${r},${r}M${-r},${r}L${r},${-r}`;
    case "triangle": case "otriangle": return `M0,${-r*1.15}L${r*1.15},${r*0.85}L${-r*1.15},${r*0.85}Z`;
    case "diamond": return `M0,${-r*1.25}L${r*1.25},0L0,${r*1.25}L${-r*1.25},0Z`;
    case "x": return `M${-r},${-r}L${r},${r}M${-r},${r}L${r},${-r}`;
    case "asterisk": return `M${-r},${-r}L${r},${r}M${-r},${r}L${r},${-r}M0,${-r*1.2}V${r*1.2}`;
    case "plus": return `M0,${-r*1.2}V${r*1.2}M${-r},0H${r}`;
    case "dash": return `M${-r*1.2},0H${r*1.2}`;
    default: return "";
  }
}
function styleMarker(sel, i) {
  const t = seriesMarker[i], c = seriesColor(i), f = markerFill(i);
  const open = t === "ocircle" || t === "osquare" || t === "otriangle";
  const strokeOnly = t === "x" || t === "asterisk" || t === "plus" || t === "dash";
  sel.attr("d", markerPath(t, markerSize(i)))
    .attr("fill", open ? "#fff" : strokeOnly ? "none" : f)
    .attr("stroke", (i === 9 || i === 10) ? "#000" : c)
    .attr("stroke-width", open || strokeOnly ? 1.6 : 0.8);
}

const CJK = '"Noto Sans CJK JP", "Noto Sans", sans-serif';
const NUM = '"Liberation Sans", Arial, sans-serif';

const svg = d3.select("#chart");

// ---- header table ----
const head = svg.append("g").attr("stroke", "#222").attr("stroke-width", 1.5).attr("fill", "none");
head.append("rect").attr("x", 8).attr("y", 8).attr("width", 1080).attr("height", 189);
[80, 83, 122, 161].forEach(y => head.append("line").attr("x1", 8).attr("x2", 1065).attr("y1", y).attr("y2", y));
head.append("line").attr("x1", 163).attr("x2", 163).attr("y1", 83).attr("y2", 197);
[544, 722].forEach(x => head.append("line").attr("x1", x).attr("x2", x).attr("y1", 122).attr("y2", 197));

function label(x, y, str, size, opt = {}) {
  const t = svg.append("text").attr("x", x).attr("y", y).text(str)
    .attr("font-family", opt.font || CJK).attr("font-size", size)
    .attr("fill", opt.fill || "#222").attr("text-anchor", opt.anchor || "middle")
    .attr("dominant-baseline", "central");
  if (opt.len) t.attr("textLength", opt.len).attr("lengthAdjust", opt.adj || "spacing");
  if (opt.weight) t.attr("font-weight", opt.weight);
  return t;
}
label(268, 46, "電導度測定記録", 37, { anchor: "start", len: 395 });
label(668, 46, "(測定結果)", 37, { anchor: "start", len: 200 });
label(84, 102, "調査件名", 12.5, { fill: "#555", len: 116 });
label(84, 141, "調査位置", 12.5, { fill: "#555", len: 116 });
label(84, 179, "調査地点", 12.5, { fill: "#555", len: 116 });
label(616, 102, "H23新石垣空港モニタリング調査委託業務(その2)", 19, { fill: "#333", len: 531, adj: "spacingAndGlyphs" });
label(356, 141, "石垣市", 19, { fill: "#333", len: 64 });
label(631, 143, "孔口標高", 12.5, { fill: "#555", len: 110 });
label(901, 142, "EL+6.30m", 19, { fill: "#333", len: 100, adj: "spacingAndGlyphs", font: '"Liberation Serif", serif' });
label(354, 179, "B－23", 19, { fill: "#333", len: 65, adj: "spacingAndGlyphs" });
label(633, 181, "塩ビ管立上り", 12.5, { fill: "#555", len: 100 });
label(901, 180, "GL+0.73m", 19, { fill: "#333", len: 100, adj: "spacingAndGlyphs", font: '"Liberation Serif", serif' });

// ---- panel frames ----
[[8, 544], [557, 520]].forEach(([x, w]) => {
  svg.append("rect").attr("x", x).attr("y", 201).attr("width", w).attr("height", 1410)
    .attr("fill", "none").attr("stroke", "#9a9a9a").attr("stroke-width", 1.2);
  svg.append("rect").attr("x", x + 3).attr("y", 204).attr("width", w - 6).attr("height", 1404)
    .attr("fill", "none").attr("stroke", "#c8c8c8").attr("stroke-width", 1);
});

// ---- charts ----
const yScale = d3.scaleLinear().domain([5, -35]).range([277, 1538]);
const condScale = d3.scaleLinear().domain([0, 5000]).range([105, 503]);
const tempScale = d3.scaleLinear().domain([23, 26]).range([660, 1028]);

function drawChart(xScale, xTicks, xFmt, xFont, values, tops, opt) {
  const [x0, x1] = xScale.range();
  const [y0, y1] = yScale.range();
  const g = svg.append("g");

  // grid
  g.selectAll("line.vg").data(xTicks.slice(1, -1)).join("line")
    .attr("x1", d => xScale(d)).attr("x2", d => xScale(d)).attr("y1", y0).attr("y2", y1)
    .attr("stroke", "#111").attr("stroke-width", 2).attr("stroke-dasharray", "2.4,9.6");
  g.selectAll("line.hg").data(depthTicks.slice(1, -1)).join("line")
    .attr("x1", x0).attr("x2", x1).attr("y1", d => yScale(d)).attr("y2", d => yScale(d))
    .attr("stroke", "#111").attr("stroke-width", 2).attr("stroke-dasharray", "2.4,9.6");

  // axes
  const top = g.append("g").attr("transform", `translate(0,${y0})`)
    .call(d3.axisTop(xScale).tickValues(xTicks).tickFormat(xFmt).tickSizeInner(-5).tickSizeOuter(0).tickPadding(opt.xPad));
  top.select(".domain").remove();
  top.selectAll("text").attr("font-family", NUM).attr("font-size", opt.xSize).attr("fill", "#333");
  top.selectAll("line").attr("stroke", "#111");
  const bot = g.append("g").attr("transform", `translate(0,${y1})`)
    .call(d3.axisBottom(xScale).tickValues(xTicks).tickFormat("").tickSizeInner(-5).tickSizeOuter(0));
  bot.select(".domain").remove();
  bot.selectAll("line").attr("stroke", "#111");
  const left = g.append("g").attr("transform", `translate(${x0},0)`)
    .call(d3.axisLeft(yScale).tickValues(depthTicks).tickFormat(d => d.toFixed(1)).tickSize(0).tickPadding(opt.yPad));
  left.select(".domain").remove();
  left.selectAll("text").attr("font-family", NUM).attr("font-size", 14).attr("fill", "#333");

  g.append("rect").attr("x", x0).attr("y", y0).attr("width", x1 - x0).attr("height", y1 - y0)
    .attr("fill", "none").attr("stroke", "#111").attr("stroke-width", 2.6);

  // series
  const line = d3.line().x(d => xScale(d.v)).y(d => yScale(d.d));
  values.forEach((vals, i) => {
    const pts = vals.map((v, k) => ({ v, d: k === 0 ? tops[i] : 1 - k }));
    const s = g.append("g");
    s.append("path").attr("d", line(pts)).attr("fill", "none")
      .attr("stroke", seriesColor(i)).attr("stroke-width", i >= 71 ? 2 : 1.5);
    if (seriesMarker[i] !== "none") {
      s.selectAll("path.m").data(pts).join("path").attr("class", "m")
        .attr("transform", d => `translate(${xScale(d.v)},${yScale(d.d)})`)
        .call(sel => styleMarker(sel, i));
    }
  });

  // titles
  label((x0 + x1) / 2 + opt.titleDx, 227, opt.title, 16, { len: opt.titleLen, weight: "bold" });
  label(opt.yLabX, 868, "標", 15);
  label(opt.yLabX, 888, "高", 15);
  label(opt.yLabX, 906, "EL", 14, { font: NUM });
  label(opt.yLabX, 930, "(m)", 14, { font: NUM });
  label(opt.bottomX, 1568, opt.bottom, 19, { len: opt.bottomLen });
}

drawChart(condScale, condTicks, d3.format(","), NUM, condValues, condTop,
  { xPad: 15, xSize: 8.5, yPad: 18, title: "電 導 度(μs/cm)", titleDx: -1, titleLen: 180,
    yLabX: 33, bottomX: 284, bottom: "標高－電導度関係図", bottomLen: 186 });
drawChart(tempScale, tempTicks, d3.format(".1f"), NUM, tempValues, tempTop,
  { xPad: 17, xSize: 14, yPad: 19, title: "水 温(℃)", titleDx: -1, titleLen: 84,
    yLabX: 582, bottomX: 818, bottom: "標高－水温関係図", bottomLen: 166 });

// ---- legend (left chart) ----
const lg = svg.append("g");
lg.append("rect").attr("x", 316).attr("y", 361).attr("width", 229).attr("height", 1167)
  .attr("fill", "#fff").attr("stroke", "#a8a8a8").attr("stroke-width", 1.2);
seriesNames.forEach((name, i) => {
  const row = Math.floor(i / 2), col = i % 2;
  const y = 374.3 + row * 27.87;
  const lx = col ? 442 : 328;
  const e = lg.append("g");
  e.append("line").attr("x1", lx).attr("x2", lx + 42).attr("y1", y).attr("y2", y)
    .attr("stroke", seriesColor(i)).attr("stroke-width", i >= 71 ? 2 : 1.5);
  if (seriesMarker[i] !== "none") {
    e.append("path").attr("transform", `translate(${lx + 21},${y})`).call(sel => styleMarker(sel, i));
  }
  e.append("text").attr("x", lx + 43).attr("y", y).attr("dominant-baseline", "central")
    .attr("font-family", CJK).attr("font-size", 10.5).attr("fill", "#333").text(name);
});
</script>
</body>
</html>
